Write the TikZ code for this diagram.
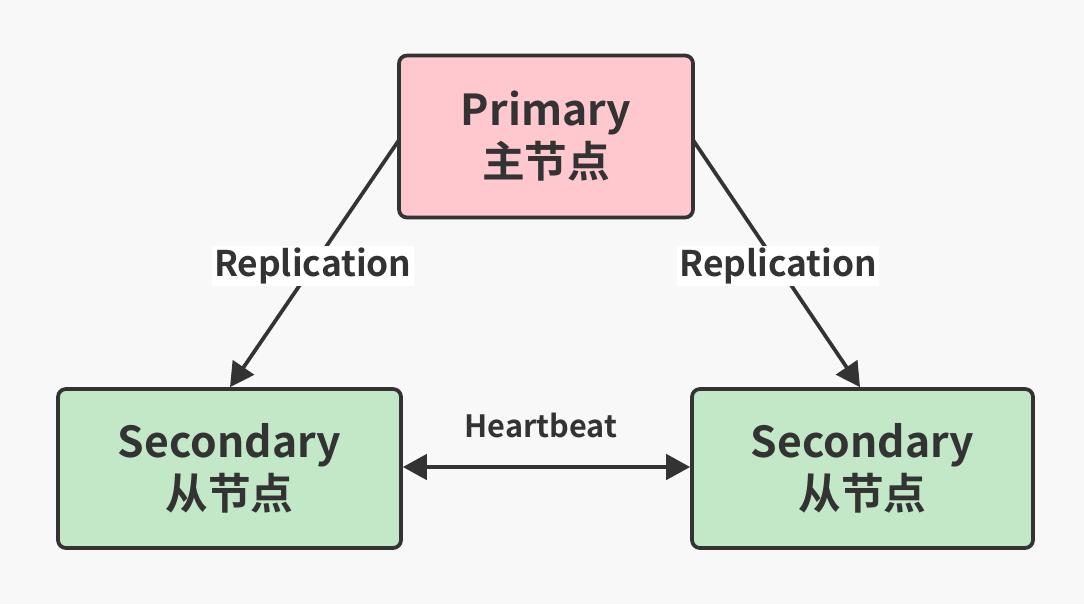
\documentclass[tikz,border=0pt]{standalone}
\usepackage{fontspec}
\setmainfont{Noto Sans CJK SC Bold}
\usetikzlibrary{arrows.meta}
\definecolor{bg}{HTML}{F8F8F8}
\definecolor{ink}{HTML}{333333}
\definecolor{pinkfill}{HTML}{FFC7CE}
\definecolor{greenfill}{HTML}{C2E8C8}
\tikzset{
  box/.style={draw=ink, line width=2.8pt, rounded corners=6pt, inner sep=0pt, text=ink, align=center, font=\fontsize{32}{39}\selectfont},
  conn/.style={draw=ink, line width=2.8pt, -{Triangle[length=18pt,width=19pt]}},
  lbl/.style={fill=white, text=ink, inner sep=1.5pt, font=\fontsize{26.5}{30}\selectfont}
}
\begin{document}
\begin{tikzpicture}[x=0.75pt,y=-0.75pt]
\fill[bg] (0,0) rectangle (1084,604);
\useasboundingbox (0,0) rectangle (1084,604);
\node[box, fill=pinkfill, minimum width=294*0.75pt, minimum height=162*0.75pt] (p) at (546,136.5) {Primary\\主节点};
\node[box, fill=greenfill, minimum width=343*0.75pt, minimum height=159*0.75pt] (sl) at (229.5,468.5) {Secondary\\从节点};
\node[box, fill=greenfill, minimum width=341*0.75pt, minimum height=159*0.75pt] (sr) at (862.5,468.5) {Secondary\\从节点};
\coordinate (pl) at (399,140);
\coordinate (pr) at (693,140);
\draw[conn] (pl) -- node[lbl, pos=0.51] (rl) {Replication} (sl.north -| 230,389);
\draw[conn] (pr) -- node[lbl, pos=0.51] (rr) {Replication} (sr.north -| 860,389);
\draw[conn, {Triangle[length=18pt,width=19pt]}-{Triangle[length=18pt,width=19pt]}] (sl.east |- 0,467) -- (sr.west |- 0,467);
\node[text=ink, font=\fontsize{23}{26}\selectfont] (hb) at (541,425) {Heartbeat};
\end{tikzpicture}
\end{document}
